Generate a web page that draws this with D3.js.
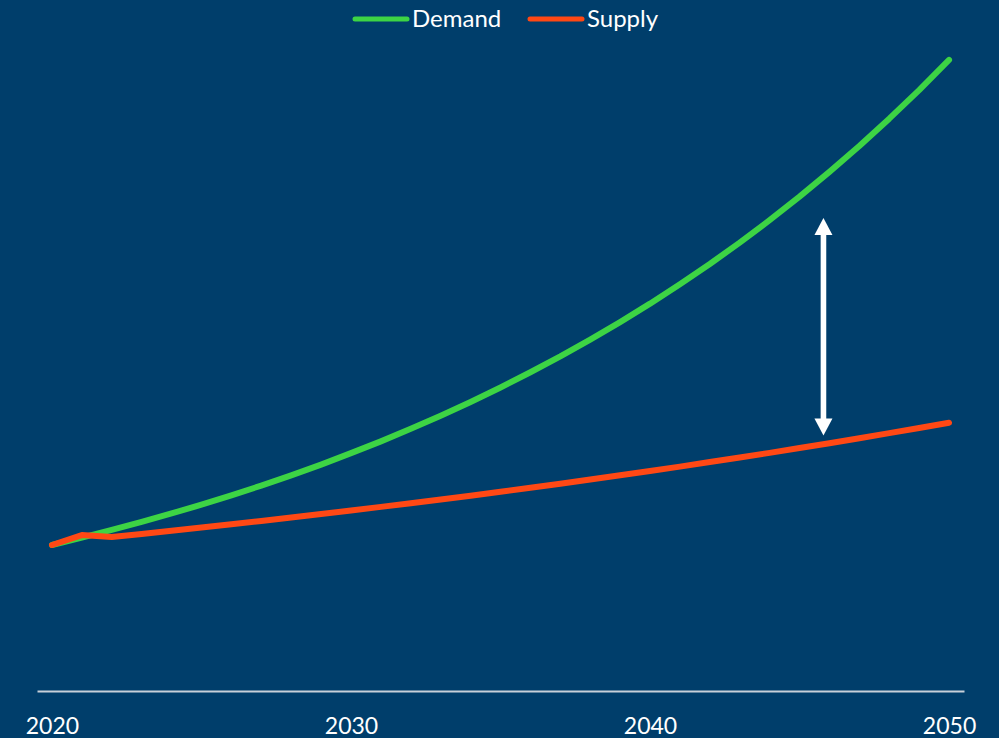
<!DOCTYPE html>
<html>
<head>
<meta charset="utf-8">
<script src="https://cdn.jsdelivr.net/npm/d3@7/dist/d3.min.js"></script>
<style>
  html, body { margin: 0; padding: 0; background: #003E6B; }
  svg { display: block; }
</style>
</head>
<body>
<svg id="chart" width="999" height="738"></svg>
<script>
// Yearly index values, 2020 = 100
const years = d3.range(2020, 2051);
const demand = [100, 105, 110.3, 115.8, 121.6, 127.6, 134.0, 140.7, 147.7, 155.1,
  162.9, 171.0, 179.6, 188.6, 198.0, 207.9, 218.3, 229.2, 240.7, 252.7,
  265.3, 278.6, 292.5, 307.1, 322.5, 338.6, 355.6, 373.3, 392.0, 411.6, 432.2];
const supply = [100, 106.8, 105.5, 107.6, 109.8, 112.0, 114.2, 116.5, 118.8, 121.2,
  123.6, 126.1, 128.6, 131.2, 133.8, 136.5, 139.2, 142.0, 144.9, 147.8,
  150.7, 153.7, 156.8, 159.9, 163.1, 166.4, 169.7, 173.1, 176.6, 180.1, 183.7];
const tickYears = [2020, 2030, 2040, 2050];
const seriesNames = ["Demand", "Supply"];
// Gap arrow between the two curves
const gapYear = 2045.8;
const gapFrom = 175;
const gapTo = 324;

const colors = { Demand: "#3DD444", Supply: "#FF4814" };
const font = "Lato, 'Open Sans', sans-serif";

const svg = d3.select("#chart");
svg.append("rect").attr("width", 999).attr("height", 738).attr("fill", "#003E6B");

const x = d3.scaleLinear().domain([2019.5, 2050.5]).range([37, 964]);
const y = d3.scaleLinear().domain([0, 450]).range([691, 34]);

// x axis
const axis = svg.append("g")
  .attr("transform", `translate(0,${y(0)})`)
  .call(d3.axisBottom(x).tickValues(tickYears).tickSize(0).tickFormat(d3.format("d")));
axis.select(".domain").attr("stroke", "#C8D0D9").attr("stroke-width", 2);
axis.selectAll("text")
  .attr("y", 43).attr("dy", 0)
  .attr("fill", "#FFFFFF")
  .style("font-family", font).style("font-size", "23px");

// lines
const line = d3.line().x((d, i) => x(years[i])).y(d => y(d));
[["Demand", demand], ["Supply", supply]].forEach(([name, vals]) => {
  svg.append("path")
    .datum(vals)
    .attr("d", line)
    .attr("fill", "none")
    .attr("stroke", colors[name])
    .attr("stroke-width", 6)
    .attr("stroke-linejoin", "round")
    .attr("stroke-linecap", "round");
});

// double-headed arrow
const ax = x(gapYear), yTop = y(gapTo), yBot = y(gapFrom);
const head = 17, half = 9;
const arrow = svg.append("g").attr("fill", "#FFFFFF");
arrow.append("rect")
  .attr("x", ax - 2.8).attr("width", 5.6)
  .attr("y", yTop + head - 1).attr("height", yBot - yTop - 2 * head + 2);
arrow.append("path").attr("d", `M${ax},${yTop} L${ax + half},${yTop + head} L${ax - half},${yTop + head} Z`);
arrow.append("path").attr("d", `M${ax},${yBot} L${ax + half},${yBot - head} L${ax - half},${yBot - head} Z`);

// legend
const legendPos = [{ x0: 355, y: 19 }, { x0: 530, y: 19 }];
seriesNames.forEach((name, i) => {
  const p = legendPos[i];
  const g = svg.append("g");
  g.append("line")
    .attr("x1", p.x0).attr("x2", p.x0 + 52)
    .attr("y1", p.y).attr("y2", p.y)
    .attr("stroke", colors[name]).attr("stroke-width", 5)
    .attr("stroke-linecap", "round");
  g.append("text")
    .attr("x", p.x0 + 57).attr("y", p.y + 8)
    .attr("fill", "#FFFFFF")
    .style("font-family", font).style("font-size", "24px")
    .text(name);
});
</script>
</body>
</html>
